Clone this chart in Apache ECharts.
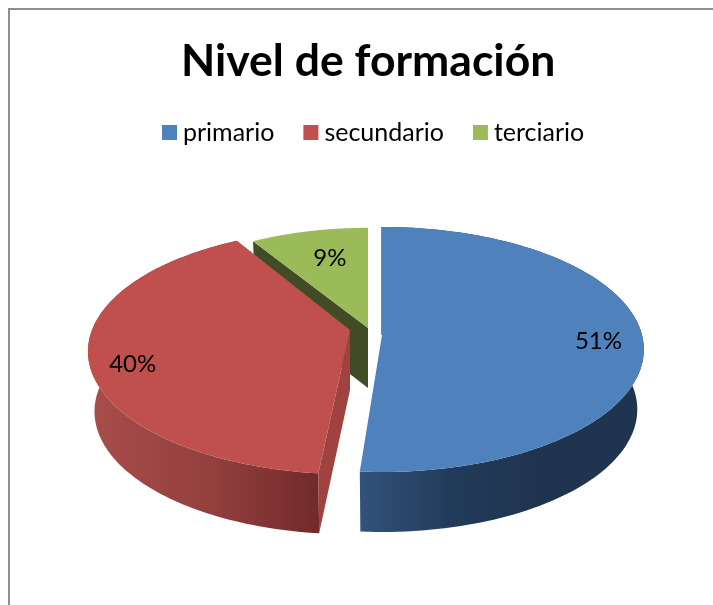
<!DOCTYPE html>
<html>
<head>
<meta charset="utf-8">
<style>
  html, body { margin: 0; padding: 0; background: #fff; }
  #chart { width: 713px; height: 605px; }
</style>
<script src="https://cdn.jsdelivr.net/npm/echarts@6/dist/echarts.min.js"></script>
</head>
<body>
<div id="chart"></div>
<script>
// datos
var categories = ["primario", "secundario", "terciario"];
var values = [51.2, 40.2, 8.6];
var colors = ["#4f81bd", "#c0504d", "#9bbb59"];

// colores de las paredes laterales (izquierda -> derecha)
var wallStops = [
  ["#32537a", "#223b5a", "#1f344e"],
  ["#a84d4a", "#95413f", "#722a2a"],
  ["#3f4a24", "#3f4a24", "#3f4a24"]
];
var cutColors = ["#1f344e", "#a04340", "#414b25"];

// pie en perspectiva: centro de cada porcion separada, radios y fuga
var slices = [
  { cx: 382, cy: 335, R: 260, S: 120.8, k: 0.118, nudge: 0, nudgeEnd: 0, labelF: 0.83, labelDy: 2, z: 2 },
  { cx: 350, cy: 330, R: 258, S: 119, k: 0.175, nudge: 0.026, nudgeEnd: 0.012, labelF: 0.835, labelDy: 13, z: 3 },
  { cx: 368, cy: 328, R: 242, S: 112, k: 0.118, nudge: -0.01, nudgeEnd: 0, labelF: 0.62, labelDy: -7, z: 1 }
];
var depth = 60;
var bottomScale = 0.975;

var total = values.reduce(function (a, b) { return a + b; }, 0);

// angulo desde arriba en sentido horario, a partir de los valores
function sliceAngles(i) {
  var sum = 0;
  for (var j = 0; j < i; j++) sum += values[j];
  return [
    sum / total * Math.PI * 2 + slices[i].nudge,
    (sum + values[i]) / total * Math.PI * 2 + slices[i].nudgeEnd
  ];
}

function project(s, a, f, bottom) {
  var u = Math.sin(a) * f, v = -Math.cos(a) * f;
  var w = 1 - s.k * v;
  var x = s.R * u / w, y = s.S * v / w;
  if (bottom) return [s.cx + x * bottomScale, s.cy + y + depth];
  return [s.cx + x, s.cy + y];
}

function arc(s, a0, a1, bottom) {
  var pts = [], n = 120;
  for (var i = 0; i <= n; i++) {
    pts.push(project(s, a0 + (a1 - a0) * i / n, 1, bottom));
  }
  return pts;
}

function renderSlice(i) {
  var s = slices[i], ang = sliceAngles(i), children = [];
  var top = [project(s, 0, 0, false)].concat(arc(s, ang[0], ang[1], false));
  var apexB = project(s, 0, 0, true);

  // pared exterior
  var front = arc(s, ang[0], ang[1], false).concat(arc(s, ang[0], ang[1], true).reverse());
  var xs = front.map(function (p) { return p[0]; });
  children.push({
    type: "polygon",
    shape: { points: front },
    style: {
      fill: {
        type: "linear", global: true,
        x: i == 0 ? project(s, ang[1], 1, false)[0] : Math.min.apply(null, xs), y: 0,
        x2: i == 0 ? Math.max.apply(null, xs) - 100 : project(s, ang[0], 1, false)[0], y2: 0,
        colorStops: [
          { offset: 0, color: wallStops[i][0] },
          { offset: 0.5, color: wallStops[i][1] },
          { offset: 1, color: wallStops[i][2] }
        ]
      }
    }
  });

  // caras del corte
  if (i == 1) {
    var c = project(s, ang[0], 1, false);
    children.push({
      type: "polygon",
      shape: { points: [top[0], c, project(s, ang[0], 1, true), apexB] },
      style: { fill: cutColors[i] }
    });
  }
  if (i == 2) {
    var l = project(s, ang[0], 1, false);
    children.push({
      type: "polygon",
      shape: { points: [l, top[0], apexB, project(s, ang[0], 1, true)] },
      style: { fill: cutColors[i] }
    });
  }
  if (i == 0) {
    var t = project(s, ang[0], 1, false);
    children.push({
      type: "line",
      shape: { x1: t[0] - 0.5, y1: t[1], x2: top[0][0] - 0.5, y2: top[0][1] },
      style: { stroke: cutColors[i], lineWidth: 1, opacity: 0.6 }
    });
  }

  // cara superior
  children.push({
    type: "polygon",
    shape: { points: top },
    style: { fill: colors[i] }
  });

  // etiqueta
  var lp = project(s, (ang[0] + ang[1]) / 2, s.labelF, false);
  children.push({
    type: "text",
    x: lp[0],
    y: lp[1] + s.labelDy,
    style: {
      text: Math.round(values[i] / total * 100) + "%",
      fontFamily: "Lato",
      fontSize: 24,
      fill: "#000",
      align: "center",
      verticalAlign: "middle"
    }
  });
  return { type: "group", children: children };
}

var chart = echarts.init(document.getElementById("chart"));
var option = {
  animation: false,
  title: {
    text: "Nivel de formación",
    left: 181,
    top: 39,
    padding: 0,
    textStyle: { fontFamily: "Lato", fontWeight: "bold", fontSize: 44.5, color: "#000" }
  },
  legend: {
    left: 162,
    top: 120,
    padding: 0,
    itemWidth: 15,
    itemHeight: 15,
    itemGap: 29,
    icon: "rect",
    selectedMode: false,
    data: categories,
    textStyle: { fontFamily: "Lato", fontSize: 25, color: "#000", padding: [0, 0, 0, 1] }
  },
  graphic: [{
    type: "rect",
    silent: true,
    shape: { x: 9, y: 9, width: 740, height: 640 },
    style: { fill: "none", stroke: "#8e8e8e", lineWidth: 2 }
  }],
  series: categories.map(function (name, i) {
    return {
      type: "custom",
      name: name,
      coordinateSystem: "none",
      z: slices[i].z + 2,
      silent: true,
      itemStyle: { color: colors[i] },
      data: [[values[i]]],
      renderItem: function () { return renderSlice(i); }
    };
  })
};
chart.setOption(option);
</script>
</body>
</html>
